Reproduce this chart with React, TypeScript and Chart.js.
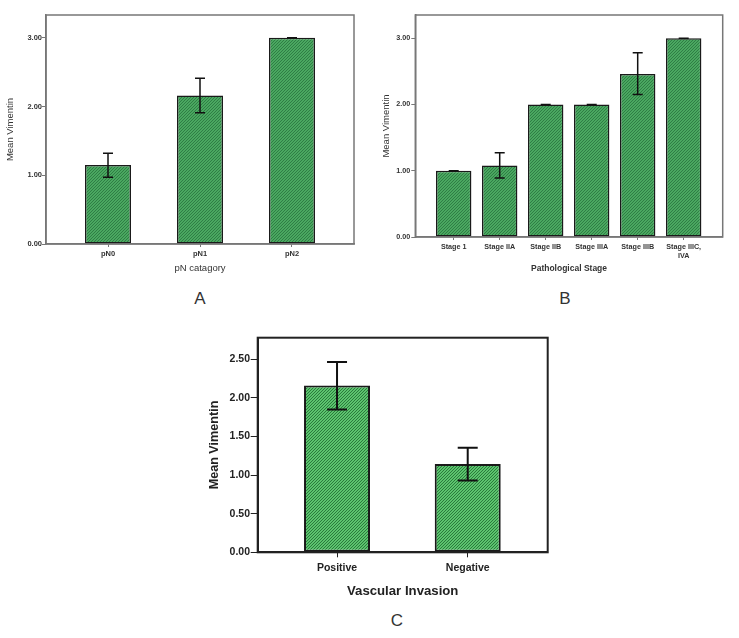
import React, { useEffect, useRef } from 'react';
import { Chart, registerables } from 'chart.js';

Chart.register(...registerables);

const FONT = '"Liberation Sans", Arial, Helvetica, sans-serif';

// ---- Panel A: pN category ----
const pnCategories: (string | string[])[] = ['pN0', 'pN1', 'pN2'];
const pnMeans = [1.15, 2.16, 3.0];
const pnErrLow = [0.97, 1.91, 3.0];
const pnErrHigh = [1.32, 2.41, 3.0];
const pnYTicks = [0, 1, 2, 3];

// ---- Panel B: Pathological stage ----
const stageCategories: (string | string[])[] = [
  'Stage 1',
  'Stage IIA',
  'Stage IIB',
  'Stage IIIA',
  'Stage IIIB',
  ['Stage IIIC,', 'IVA'],
];
const stageMeans = [1.0, 1.08, 2.0, 2.0, 2.46, 3.0];
const stageErrLow = [1.0, 0.89, 2.0, 2.0, 2.15, 3.0];
const stageErrHigh = [1.0, 1.27, 2.0, 2.0, 2.78, 3.0];
const stageYTicks = [0, 1, 2, 3];

// ---- Panel C: Vascular invasion ----
const viCategories: (string | string[])[] = ['Positive', 'Negative'];
const viMeans = [2.16, 1.145];
const viErrLow = [1.85, 0.93];
const viErrHigh = [2.465, 1.355];
const viYTicks = [0, 0.5, 1, 1.5, 2, 2.5];

type PanelSpec = {
  x: number;
  y: number;
  w: number;
  h: number;
  areaLeft: number;
  areaTop: number;
  areaRight: number;
  areaBottom: number;
  xMin: number;
  xMax: number;
  yMax: number;
  categories: (string | string[])[];
  means: number[];
  lo: number[];
  hi: number[];
  yTicks: number[];
  barPct: number;
  xTitle: string;
  yTitle: string;
  xTitleFont: { size: number; weight: string };
  yTitleFont: { size: number; weight: string };
  xTitlePad: number;
  yTitlePad: number;
  tickFont: number;
  xTickLen: number;
  xTickPad: number;
  yTickLen: number;
  yTickPad: number;
  textColor: string;
  frameColor: string;
  frameWidth: number;
  barBorder: number;
  errWidth: number;
  capHalf: number;
  fillBase: string;
  fillLine: string;
  hatch: number;
};

function makePattern(ctx: CanvasRenderingContext2D, base: string, line: string, size: number) {
  const c = document.createElement('canvas');
  c.width = size;
  c.height = size;
  const g = c.getContext('2d')!;
  g.fillStyle = base;
  g.fillRect(0, 0, size, size);
  g.fillStyle = line;
  for (let i = 0; i < size; i++) g.fillRect(i, size - 1 - i, 1, 1);
  return ctx.createPattern(c, 'repeat')!;
}

function Panel({ s }: { s: PanelSpec }) {
  const ref = useRef<HTMLCanvasElement>(null);
  useEffect(() => {
    const ctx = ref.current!.getContext('2d')!;
    const pattern = makePattern(ctx, s.fillBase, s.fillLine, s.hatch);

    const errorBars = {
      id: 'errorBars',
      afterDatasetsDraw(chart: any) {
        const meta = chart.getDatasetMeta(0);
        const yScale = chart.scales.y;
        const c = chart.ctx;
        c.save();
        c.strokeStyle = '#111';
        c.lineWidth = s.errWidth;
        meta.data.forEach((bar: any, i: number) => {
          const yl = yScale.getPixelForValue(s.lo[i]);
          const yh = yScale.getPixelForValue(s.hi[i]);
          c.beginPath();
          c.moveTo(bar.x, yl);
          c.lineTo(bar.x, yh);
          c.moveTo(bar.x - s.capHalf, yl);
          c.lineTo(bar.x + s.capHalf, yl);
          c.moveTo(bar.x - s.capHalf, yh);
          c.lineTo(bar.x + s.capHalf, yh);
          c.stroke();
        });
        c.restore();
      },
    };

    const frame = {
      id: 'frame',
      afterDraw(chart: any) {
        const a = chart.chartArea;
        const c = chart.ctx;
        c.save();
        c.strokeStyle = s.frameColor;
        c.lineWidth = s.frameWidth;
        c.strokeRect(a.left, a.top, a.right - a.left, a.bottom - a.top);
        c.restore();
      },
    };

    const chart = new Chart(ctx, {
      type: 'bar',
      data: {
        datasets: [
          {
            data: s.means.map((v, i) => ({ x: i + 1, y: v })),
            backgroundColor: pattern,
            borderColor: '#1a1a1a',
            borderWidth: s.barBorder,
            borderSkipped: false,
            barPercentage: s.barPct,
            categoryPercentage: 1,
          },
        ],
      },
      options: {
        responsive: false,
        animation: false,
        layout: {
          padding: {
            left: 0,
            top: s.areaTop,
            right: s.w - s.areaRight,
            bottom: 0,
          },
        },
        plugins: {
          legend: { display: false },
          tooltip: { enabled: false },
        },
        scales: {
          x: {
            type: 'linear',
            min: s.xMin,
            max: s.xMax,
            offset: false,
            afterBuildTicks: (axis: any) => {
              axis.ticks = s.categories.map((_, i) => ({ value: i + 1 }));
            },
            afterFit: (axis: any) => {
              axis.height = s.h - s.areaBottom;
            },
            grid: {
              display: true,
              offset: false,
              drawOnChartArea: false,
              drawTicks: true,
              tickLength: s.xTickLen,
              color: s.frameColor,
              lineWidth: 1,
            },
            border: { display: true, color: s.frameColor, width: s.frameWidth },
            ticks: {
              autoSkip: false,
              maxRotation: 0,
              minRotation: 0,
              padding: s.xTickPad,
              color: s.textColor,
              font: { family: FONT, size: s.tickFont, weight: 'bold' },
              callback: (v: any) => s.categories[Math.round(Number(v)) - 1] as any,
            },
            title: {
              display: true,
              text: s.xTitle,
              color: s.textColor,
              font: { family: FONT, size: s.xTitleFont.size, weight: s.xTitleFont.weight as any },
              padding: { top: 0, bottom: s.xTitlePad },
            },
          },
          y: {
            type: 'linear',
            min: 0,
            max: s.yMax,
            afterBuildTicks: (axis: any) => {
              axis.ticks = s.yTicks.map((v) => ({ value: v }));
            },
            afterFit: (axis: any) => {
              axis.width = s.areaLeft;
            },
            grid: {
              display: true,
              drawOnChartArea: false,
              drawTicks: true,
              tickLength: s.yTickLen,
              color: s.frameColor,
              lineWidth: 1,
            },
            border: { display: true, color: s.frameColor, width: s.frameWidth },
            ticks: {
              padding: s.yTickPad,
              color: s.textColor,
              font: { family: FONT, size: s.tickFont, weight: 'bold' },
              callback: (v: any) => Number(v).toFixed(2),
            },
            title: {
              display: true,
              text: s.yTitle,
              color: s.textColor,
              font: { family: FONT, size: s.yTitleFont.size, weight: s.yTitleFont.weight as any },
              padding: { top: s.yTitlePad, bottom: 0 },
            },
          },
        },
      },
      plugins: [errorBars, frame],
    } as any);
    return () => chart.destroy();
  }, [s]);
  return (
    <canvas
      ref={ref}
      width={s.w}
      height={s.h}
      style={{ position: 'absolute', left: s.x, top: s.y, width: s.w, height: s.h }}
    />
  );
}

const specA: PanelSpec = {
  x: 0, y: 0, w: 369, h: 285,
  areaLeft: 46, areaTop: 15, areaRight: 354, areaBottom: 244,
  xMin: 0.326, xMax: 3.674, yMax: 3.33,
  categories: pnCategories, means: pnMeans, lo: pnErrLow, hi: pnErrHigh, yTicks: pnYTicks,
  barPct: 0.5,
  xTitle: 'pN catagory', yTitle: 'Mean Vimentin',
  xTitleFont: { size: 9.5, weight: 'normal' }, yTitleFont: { size: 9.5, weight: 'normal' },
  xTitlePad: 11.3, yTitlePad: 4.3,
  tickFont: 7.5, xTickLen: 3, xTickPad: 2.5, yTickLen: 4, yTickPad: 0,
  textColor: '#333', frameColor: '#777', frameWidth: 1.5,
  barBorder: 1.5, errWidth: 1.5, capHalf: 5,
  fillBase: '#4aa860', fillLine: '#2f7d45', hatch: 3,
};

const specB: PanelSpec = {
  x: 370, y: 0, w: 369, h: 285,
  areaLeft: 45.3, areaTop: 15, areaRight: 352.7, areaBottom: 237,
  xMin: 0.165, xMax: 6.848, yMax: 3.35,
  categories: stageCategories, means: stageMeans, lo: stageErrLow, hi: stageErrHigh, yTicks: stageYTicks,
  barPct: 0.77,
  xTitle: 'Pathological Stage', yTitle: 'Mean Vimentin',
  xTitleFont: { size: 8.5, weight: 'bold' }, yTitleFont: { size: 9.5, weight: 'normal' },
  xTitlePad: 10.9, yTitlePad: 10.3,
  tickFont: 7.2, xTickLen: 3, xTickPad: 2.7, yTickLen: 4, yTickPad: 1,
  textColor: '#333', frameColor: '#777', frameWidth: 1.5,
  barBorder: 1.5, errWidth: 1.5, capHalf: 5,
  fillBase: '#4aa860', fillLine: '#2f7d45', hatch: 3,
};

const specC: PanelSpec = {
  x: 180, y: 320, w: 380, h: 285,
  areaLeft: 77.7, areaTop: 17.7, areaRight: 367.7, areaBottom: 232.3,
  xMin: 0.393, xMax: 2.612, yMax: 2.78,
  categories: viCategories, means: viMeans, lo: viErrLow, hi: viErrHigh, yTicks: viYTicks,
  barPct: 0.505,
  xTitle: 'Vascular Invasion', yTitle: 'Mean Vimentin',
  xTitleFont: { size: 13.2, weight: 'bold' }, yTitleFont: { size: 12.6, weight: 'bold' },
  xTitlePad: 6.1, yTitlePad: 27.4,
  tickFont: 10.5, xTickLen: 5, xTickPad: 4.4, yTickLen: 7, yTickPad: 0.7,
  textColor: '#222', frameColor: '#222', frameWidth: 2,
  barBorder: 2, errWidth: 2, capHalf: 10,
  fillBase: '#5cc46e', fillLine: '#2a7a3c', hatch: 3,
};

const letterStyle = (x: number, y: number): React.CSSProperties => ({
  position: 'absolute',
  left: x,
  top: y,
  transform: 'translate(-50%, -50%)',
  fontFamily: FONT,
  fontSize: 17,
  lineHeight: 1,
  color: '#333',
});

export default function App() {
  return (
    <div
      style={{
        position: 'absolute',
        left: 0,
        top: 0,
        width: 739,
        height: 638,
        background: '#fff',
        overflow: 'hidden',
      }}
    >
      <Panel s={specA} />
      <Panel s={specB} />
      <Panel s={specC} />
      <div style={letterStyle(200, 298)}>A</div>
      <div style={letterStyle(565, 298)}>B</div>
      <div style={letterStyle(397, 620)}>C</div>
    </div>
  );
}
